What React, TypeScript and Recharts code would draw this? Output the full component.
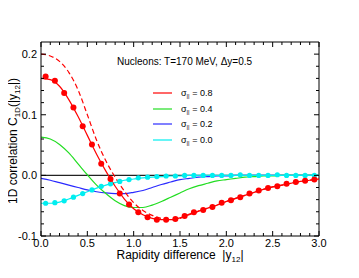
import { ComposedChart, Line, XAxis, YAxis, ReferenceLine, Legend } from 'recharts';

const FONT = '"Liberation Sans", Arial, Helvetica, sans-serif';

// x grid of the curves and x positions of the data points
const curveX = [0, 0.1, 0.2, 0.3, 0.4, 0.5, 0.6, 0.7, 0.8, 0.9, 1.0, 1.1, 1.2, 1.3, 1.4, 1.5, 1.6, 1.7, 1.8, 1.9, 2.0, 2.1, 2.2, 2.3, 2.4, 2.5, 2.6, 2.7, 2.8, 2.9, 3.0];
const pointX = [0.05, 0.15, 0.25, 0.35, 0.45, 0.55, 0.65, 0.75, 0.85, 0.95, 1.05, 1.15, 1.25, 1.35, 1.45, 1.55, 1.65, 1.75, 1.85, 1.95, 2.05, 2.15, 2.25, 2.35, 2.45, 2.55, 2.65, 2.75, 2.85, 2.95];

const sigma08 = [0.160, 0.158, 0.147, 0.125, 0.097, 0.066, 0.035, 0.007, -0.018, -0.039, -0.055, -0.065, -0.071, -0.073, -0.073, -0.070, -0.064, -0.059, -0.054, -0.049, -0.043, -0.038, -0.033, -0.028, -0.023, -0.019, -0.016, -0.013, -0.010, -0.008, -0.006];
const sigma08Dashed = [0.200, 0.197, 0.188, 0.170, 0.141, 0.100, 0.058, 0.024, -0.003, -0.026, -0.045, -0.058, -0.066, -0.071, -0.073, -0.071, -0.065, -0.059, -0.054, -0.049, -0.043, -0.038, -0.033, -0.028, -0.023, -0.019, -0.016, -0.013, -0.010, -0.008, -0.006];
const sigma04 = [0.063, 0.060, 0.051, 0.037, 0.019, 0.001, -0.016, -0.030, -0.042, -0.050, -0.053, -0.053, -0.049, -0.043, -0.036, -0.029, -0.022, -0.017, -0.013, -0.009, -0.007, -0.005, -0.003, -0.002, -0.001, -0.001, 0, 0, 0, 0, 0];
const sigma02 = [-0.005, -0.008, -0.012, -0.016, -0.020, -0.024, -0.027, -0.029, -0.030, -0.030, -0.028, -0.025, -0.020, -0.015, -0.011, -0.007, -0.005, -0.003, -0.002, -0.001, -0.001, 0, 0, 0, 0, 0, 0, 0, 0, 0, 0];
const sigma00 = [-0.046, -0.046, -0.044, -0.039, -0.033, -0.027, -0.021, -0.016, -0.012, -0.008, -0.006, -0.004, -0.003, -0.002, -0.001, -0.001, 0, 0, 0, 0, 0, 0, 0, 0, 0, 0, 0, 0, 0, 0, 0];

const points08 = [0.163, 0.156, 0.136, 0.112, 0.081, 0.051, 0.019, -0.006, -0.030, -0.048, -0.061, -0.069, -0.073, -0.073, -0.072, -0.067, -0.061, -0.057, -0.052, -0.045, -0.041, -0.036, -0.030, -0.025, -0.021, -0.018, -0.014, -0.011, -0.009, -0.007];
const points00 = [-0.046, -0.045, -0.042, -0.036, -0.030, -0.024, -0.018, -0.014, -0.010, -0.007, -0.004, -0.003, -0.002, -0.001, -0.001, 0, 0, 0, 0, 0, 0, 0.001, 0, 0, 0, 0.001, 0, 0, 0, 0];

const legendLabels = ['0.8', '0.4', '0.2', '0.0'];
const legendColors = ['#ff0000', '#22dd22', '#2a2aff', '#00eef0'];

// tick positions (major ones get a label)
const xTicks = curveX;
const yTicks = [-0.1, -0.08, -0.06, -0.04, -0.02, 0, 0.02, 0.04, 0.06, 0.08, 0.1, 0.12, 0.14, 0.16, 0.18, 0.2];

const W = 359;
const H = 278;
const M = { top: 42, right: 40, bottom: 0, left: 13 };
const X_AXIS_H = 42;
const Y_AXIS_W = 28;
const plotTop = M.top;
const plotRight = W - M.right;

const zip = (xs: number[], ys: number[]) => xs.map((x, i) => ({ x, y: ys[i] }));
const isMult = (v: number, step: number) => Math.abs(v / step - Math.round(v / step)) < 1e-6;

const XTick = ({ x, y, payload }: any) => {
  const major = isMult(payload.value, 0.5);
  const len = major ? 5 : 3;
  return (
    <g>
      <line x1={x} x2={x} y1={y} y2={y - len} stroke="#000" />
      <line x1={x} x2={x} y1={plotTop} y2={plotTop + len} stroke="#000" />
      {major && (
        <text x={x} y={y + 10.5} textAnchor="middle" fontSize={11} fontFamily={FONT} fill="#000">
          {payload.value.toFixed(1)}
        </text>
      )}
    </g>
  );
};

const YTick = ({ x, y, payload }: any) => {
  const major = isMult(payload.value, 0.1);
  const len = major ? 5 : 3;
  return (
    <g>
      <line x1={x} x2={x + len} y1={y} y2={y} stroke="#000" />
      <line x1={plotRight} x2={plotRight - len} y1={y} y2={y} stroke="#000" />
      {major && (
        <text x={x - 4} y={y + 4} textAnchor="end" fontSize={11} fontFamily={FONT} fill="#000">
          {payload.value.toFixed(1)}
        </text>
      )}
    </g>
  );
};

const XTitle = ({ viewBox }: any) => (
  <text x={viewBox.x + viewBox.width / 2} y={viewBox.y + 22.5} textAnchor="middle" fontSize={12} fontFamily={FONT} fill="#000">
    {'Rapidity difference\u00a0\u00a0|y'}<tspan fontSize={8} dy={3}>12</tspan><tspan dy={-3}>|</tspan>
  </text>
);

const YTitle = ({ viewBox }: any) => {
  const cx = 17;
  const cy = viewBox.y + viewBox.height / 2 + 2;
  return (
    <text x={cx} y={cy} transform={`rotate(-90, ${cx}, ${cy})`} textAnchor="middle" fontSize={12} fontFamily={FONT} fill="#000">
      1D correlation C<tspan fontSize={8} dy={3}>1D</tspan><tspan dy={-3}>(|y</tspan><tspan fontSize={8} dy={3}>12</tspan><tspan dy={-3}>|)</tspan>
    </text>
  );
};

const renderLegend = () => (
  <div style={{ fontFamily: FONT, fontSize: 9, color: '#000' }}>
    {legendLabels.map((lab, i) => (
      <div key={lab} style={{ display: 'flex', alignItems: 'center', height: 15.5 }}>
        <svg width={19} height={4}>
          <line x1={0} x2={19} y1={2} y2={2} stroke={legendColors[i]} strokeWidth={1.2} />
        </svg>
        <span style={{ marginLeft: 9 }}>
          σ<span style={{ fontSize: 6, position: 'relative', top: 2 }}>||</span> = {lab}
        </span>
      </div>
    ))}
  </div>
);

export default function App() {
  return (
    <div style={{ position: 'relative', left: -8, top: -8, width: W, height: H }}>
      <ComposedChart width={W} height={H} margin={M}>
        <XAxis xAxisId="x" dataKey="x" type="number" domain={[0, 3]} ticks={xTicks} interval={0} allowDataOverflow
          tickLine={false} tickSize={0} tickMargin={0} height={X_AXIS_H} axisLine={{ stroke: '#000' }}
          tick={<XTick />} label={<XTitle />} />
        <YAxis yAxisId="y" type="number" domain={[-0.1, 0.22]} ticks={yTicks} interval={0} allowDataOverflow
          tickLine={false} tickSize={0} tickMargin={0} width={Y_AXIS_W} axisLine={{ stroke: '#000' }}
          tick={<YTick />} label={<YTitle />} />

        <ReferenceLine xAxisId="x" yAxisId="y" y={0.22} stroke="#000" />
        <ReferenceLine xAxisId="x" yAxisId="y" x={3} stroke="#000" />
        <ReferenceLine xAxisId="x" yAxisId="y" y={0} stroke="#222" strokeWidth={1.3} />

        <Line xAxisId="x" yAxisId="y" data={zip(curveX, sigma02)} dataKey="y" type="monotone" stroke={legendColors[2]} strokeWidth={1.2} dot={false} isAnimationActive={false} />
        <Line xAxisId="x" yAxisId="y" data={zip(curveX, sigma04)} dataKey="y" type="monotone" stroke={legendColors[1]} strokeWidth={1.2} dot={false} isAnimationActive={false} />
        <Line xAxisId="x" yAxisId="y" data={zip(curveX, sigma00)} dataKey="y" type="monotone" stroke={legendColors[3]} strokeWidth={1.2} dot={false} isAnimationActive={false} />
        <Line xAxisId="x" yAxisId="y" data={zip(pointX, points00)} dataKey="y" stroke="none" dot={{ r: 2.6, fill: legendColors[3], stroke: 'none' }} isAnimationActive={false} />
        <Line xAxisId="x" yAxisId="y" data={zip(curveX, sigma08Dashed)} dataKey="y" type="monotone" stroke={legendColors[0]} strokeWidth={1.2} strokeDasharray="5 3" dot={false} isAnimationActive={false} />
        <Line xAxisId="x" yAxisId="y" data={zip(curveX, sigma08)} dataKey="y" type="monotone" stroke={legendColors[0]} strokeWidth={1.2} dot={false} isAnimationActive={false} />
        <Line xAxisId="x" yAxisId="y" data={zip(pointX, points08)} dataKey="y" stroke="none" dot={{ r: 3, fill: legendColors[0], stroke: 'none' }} isAnimationActive={false} />

        <Legend content={renderLegend} layout="vertical" align="center" verticalAlign="middle"
          wrapperStyle={{ left: 153, top: 85.5, width: 90 }} />
      </ComposedChart>
      <div style={{ position: 'absolute', left: 117, top: 56, fontFamily: FONT, fontSize: 10, lineHeight: '12px', color: '#000', whiteSpace: 'nowrap' }}>
        Nucleons: T=170 MeV, Δy=0.5
      </div>
    </div>
  );
}
